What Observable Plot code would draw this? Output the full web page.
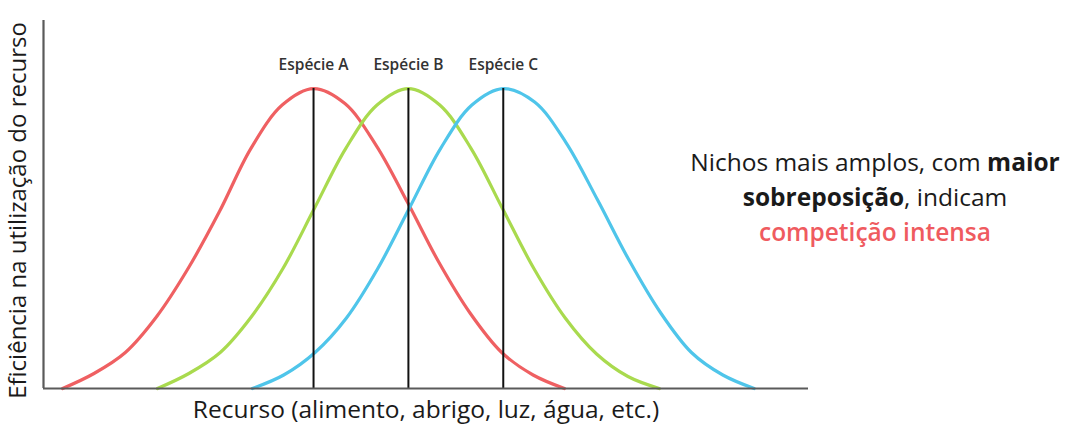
<!DOCTYPE html>
<html>
<head>
<meta charset="utf-8">
<script src="https://cdn.jsdelivr.net/npm/d3@7"></script>
<script src="https://cdn.jsdelivr.net/npm/@observablehq/plot@0.6"></script>
<style>
  html, body { margin: 0; padding: 0; background: #fff; }
  #wrap { position: relative; width: 1070px; height: 436px; overflow: hidden; }
  #note { position: absolute; left: 655px; top: 144px; width: 440px; text-align: center;
          font-family: "Open Sans", sans-serif; font-size: 24.5px; line-height: 35px; color: #1a1a1a; }
  #note b { font-weight: 700; }
  #note .red { color: #ef5b5f; font-weight: 600; }
</style>
</head>
<body>
<div id="wrap">
  <div id="chart"></div>
  <div id="note">Nichos mais amplos, com <b>maior</b><br><b>sobreposição</b>, indicam<br><span class="red">competição intensa</span></div>
</div>
<script>
// Species names, peak positions (resource units 0–100) and colours
const species = ["Espécie A", "Espécie B", "Espécie C"];
const peaks = [35.3, 47.7, 60.1];
const colors = ["#ef6062", "#a9da4e", "#4fc5ea"];

// Curve points: resource position and efficiency (peak = 1)
const curveA_x = [2.5, 6.6, 10.7, 14.8, 18.9, 23.0, 27.1, 31.2, 35.3, 39.4, 43.5, 47.6, 51.7, 55.8, 59.9, 64.0, 68.1];
const curveA_y = [0, 0.05, 0.12, 0.24, 0.40, 0.59, 0.80, 0.945, 1.0, 0.95, 0.81, 0.62, 0.42, 0.25, 0.12, 0.045, 0];
const curveB_x = [14.9, 19.0, 23.1, 27.2, 31.3, 35.4, 39.5, 43.6, 47.7, 51.8, 55.9, 60.0, 64.1, 68.2, 72.3, 76.4, 80.5];
const curveB_y = [0, 0.05, 0.12, 0.24, 0.40, 0.60, 0.80, 0.945, 1.0, 0.945, 0.80, 0.60, 0.40, 0.235, 0.115, 0.04, 0];
const curveC_x = [27.3, 31.4, 35.5, 39.6, 43.7, 47.8, 51.9, 56.0, 60.1, 64.2, 68.3, 72.4, 76.5, 80.6, 84.7, 88.8, 92.9];
const curveC_y = [0, 0.045, 0.12, 0.235, 0.40, 0.60, 0.80, 0.945, 1.0, 0.955, 0.82, 0.63, 0.43, 0.255, 0.12, 0.045, 0];

const xLabel = "Recurso (alimento, abrigo, luz, água, etc.)";
const yLabel = "Eficiência na utilização do recurso";

const rows = [];
[[curveA_x, curveA_y], [curveB_x, curveB_y], [curveC_x, curveC_y]].forEach(([xs, ys], i) => {
  xs.forEach((x, j) => rows.push({sp: species[i], x, y: ys[j]}));
});
const peakRows = species.map((s, i) => ({sp: s, x: peaks[i]}));

const chart = Plot.plot({
  width: 1070,
  height: 436,
  marginLeft: 43,
  marginRight: 262,
  marginTop: 20,
  marginBottom: 48,
  x: {domain: [0, 100], axis: null},
  y: {domain: [0, 1.227], axis: null},
  color: {domain: species, range: colors},
  style: {fontFamily: "Open Sans, sans-serif", background: "#fff", overflow: "visible"},
  marks: [
    Plot.line(rows, {x: "x", y: "y", z: "sp", stroke: "sp", strokeWidth: 3.2, curve: "catmull-rom", strokeLinecap: "round"}),
    Plot.ruleX(peakRows, {x: "x", y1: 0, y2: 1, stroke: "#111", strokeWidth: 2}),
    Plot.ruleX([0], {stroke: "#5a5a5a", strokeWidth: 2.2}),
    Plot.ruleY([0], {stroke: "#5a5a5a", strokeWidth: 2.2}),
    Plot.text(peakRows, {x: "x", y: 1.077, text: "sp", fontSize: 15.5, fontWeight: 600, fill: "#333"}),
    Plot.text([xLabel], {frameAnchor: "bottom", dy: 29, fontSize: 24.5, fill: "#1a1a1a"}),
    Plot.text([yLabel], {frameAnchor: "left", textAnchor: "middle", rotate: -90, dx: -25, dy: 6, fontSize: 24, fill: "#1a1a1a"})
  ]
});
document.getElementById("chart").appendChild(chart);
</script>
</body>
</html>
